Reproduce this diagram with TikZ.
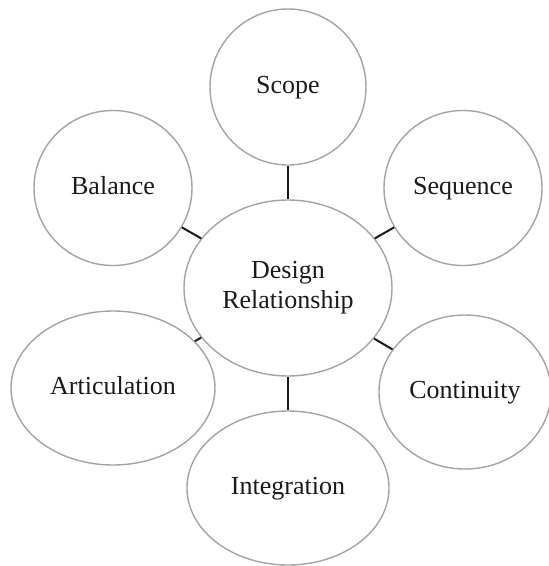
\documentclass[tikz,border=0pt]{standalone}
\usepackage{fontspec}
\setmainfont{Liberation Serif}
\usetikzlibrary{shapes.geometric}
\definecolor{ringgray}{HTML}{A3A3A3}
\definecolor{txt}{HTML}{1A1A1A}
\tikzset{
  bubble/.style={ellipse, draw=ringgray, line width=1.4pt, inner sep=0pt,
    font=\fontsize{26}{30}\selectfont, text=txt, align=center},
  link/.style={draw=black!90, line width=2pt}
}
\begin{document}
\begin{tikzpicture}[x=1pt,y=-1pt]
\useasboundingbox (0,0) rectangle (549,566);
\node[bubble, minimum width=208pt, minimum height=176pt] (design) at (288,288) {Design\\Relationship};
\node[bubble, minimum width=156pt, minimum height=156pt] (scope) at (288,87) {\strut Scope};
\node[bubble, minimum width=158pt, minimum height=155pt] (balance) at (113,188) {\strut Balance};
\node[bubble, minimum width=158pt, minimum height=155pt] (sequence) at (463,188) {\strut Sequence};
\node[bubble, minimum width=204pt, minimum height=154pt] (articulation) at (113,388) {\strut Articulation};
\node[bubble, minimum width=172pt, minimum height=154pt] (continuity) at (465,392) {\strut Continuity};
\node[bubble, minimum width=202pt, minimum height=154pt] (integration) at (288,488) {\strut Integration};
\draw[link] (design) -- (scope);
\draw[link] (design) -- (balance);
\draw[link] (design) -- (sequence);
\draw[link] (design) -- (articulation);
\draw[link] (design) -- (continuity);
\draw[link] (design) -- (integration);
\end{tikzpicture}
\end{document}
